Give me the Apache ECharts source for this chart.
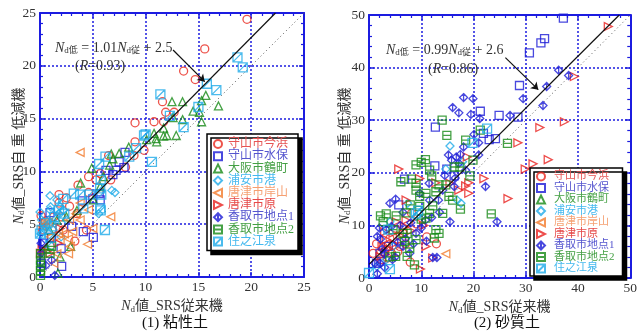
<!DOCTYPE html>
<html><head><meta charset="utf-8">
<script src="https://cdn.jsdelivr.net/npm/echarts@6/dist/echarts.min.js"></script>
<style>html,body{margin:0;padding:0;background:#fff}#c{width:640px;height:334px}</style>
</head><body><div id="c"></div>
<script>
// ---- names ----
const seriesNames = ['守山市今浜','守山市水保','大阪市鶴町','浦安市港','唐津市岸山','唐津市原','香取市地点1','香取市地点2','住之江泉'];
const ticksLeft = [0,5,10,15,20,25];
const ticksRight = [0,10,20,30,40,50];
// ---- (1) clay ----
const c_imahama = [[19.6,24.4],[15.6,21.6],[13.6,19.5],[14.7,18.7],[11.6,16.6],[11.9,15.6],[12.7,15.6],[9.0,14.6],[10.8,14.7],[11.7,14.7],[9.0,12.8],[9.85,12.0],[8.9,11.5],[8.1,10.4],[4.6,9.5],[5.3,9.2],[6.7,9.2],[3.6,8.7],[4.6,8.0],[1.8,7.8],[2.5,7.5],[1.8,7.0],[2.8,6.7],[1.3,5.7],[0.5,5.3],[0.25,4.45],[3.3,3.4],[2.0,5.7],[3.5,6.0],[0.1,5.8],[2.2,4.45],[4.4,4.45],[5.7,9.8],[6.5,11.5]];
const c_mizuho = [[7.5,10.9],[7.95,10.35],[7.2,10.1],[6.25,10.1],[6.9,9.7],[8.05,11.8],[5.6,7.9],[5.7,7.3],[5.0,7.4],[4.0,7.2],[4.1,4.3],[5.05,3.75],[3.0,4.8],[2.0,2.7],[2.05,1.0],[1.1,3.75],[0.25,3.2],[0.15,1.3],[0.95,6.1]];
const c_tsurumachi = [[12.5,16.6],[13.5,16.6],[15.7,17.2],[15.3,16.7],[16.9,16.2],[14.5,15.7],[15.1,15.6],[15.3,14.7],[13.5,14.9],[12.6,15.1],[11.7,14.1],[12.0,13.4],[12.9,13.4],[11.7,13.35],[10.8,13.6],[11.0,13.1],[10.1,13.0],[8.4,12.3],[7.5,11.7],[6.75,11.65],[6.6,10.6],[4.9,10.3],[3.85,8.9],[3.5,6.3],[2.5,5.7],[1.6,5.4],[0.9,4.45],[2.9,2.9],[1.9,1.9],[1.7,0.35],[0.6,2.7],[5.7,8.55],[6.0,9.5],[5.05,7.3],[6.9,11.2],[11.05,12.8]];
const c_urayasu = [[0.95,7.7],[7.1,8.0],[6.8,8.2],[5.55,6.0],[0.95,6.35],[1.0,6.65],[0.0,6.15],[1.6,7.3],[1.9,6.65],[2.2,6.35],[0.5,4.8],[1.25,4.45],[1.75,6.0],[0.8,5.4],[2.5,5.4],[0.1,4.1],[2.0,3.8],[1.1,2.9],[0.15,5.4],[1.4,5.1]];
const c_kishiyama = [[3.8,11.8],[6.7,5.7],[4.6,6.35],[3.8,7.0],[4.5,3.1],[5.0,4.6],[3.4,6.0],[2.8,5.4],[2.7,3.6],[1.9,3.5],[1.6,2.2],[1.3,1.3],[2.85,2.9],[0.3,5.15],[0.15,4.8],[0.95,3.8],[2.3,4.1],[3.1,4.3],[0.8,5.2],[2.7,2.2],[3.8,5.4],[1.75,4.1]];
const c_hara = [[0.05,2.25],[1.9,4.6],[0.95,2.25],[0.2,2.6],[1.7,3.2]];
const c_katori1 = [[1.4,0.15],[1.1,1.6],[0.55,1.1],[0.1,2.25],[0.1,3.2]];
const c_katori2 = [[0.05,0.15],[0.05,0.6],[0.05,1.1],[0.05,1.6],[0.05,2.2],[1.1,2.9],[0.95,2.25]];
const c_suminoe = [[18.7,20.8],[19.2,19.85],[15.8,18.3],[16.7,17.7],[11.4,17.3],[15.0,16.1],[13.6,14.2],[12.3,15.25],[9.85,13.4],[10.0,13.5],[10.6,10.9],[9.1,12.2],[8.45,11.4],[6.2,11.4],[5.6,10.7],[5.75,9.2],[5.7,8.4],[5.8,7.8],[5.7,6.5],[5.75,6.3],[6.15,4.45],[3.8,7.8],[3.2,7.9],[2.2,7.4],[1.8,6.35],[2.3,6.0],[1.35,5.7],[0.5,5.1],[0.15,4.45],[0.0,4.1],[0.95,3.7],[1.1,4.8],[4.7,7.8],[4.1,6.5]];
const c_regLine = [[0,2.5],[22.3,25]];
const c_oneLine = [[0,0],[25,25]];
const c_arrow = [[12.6,21.5],[15.6,18.5]];
// ---- (2) sand ----
const s_imahama = [[11.05,7.8],[12.9,6.5],[7.9,3.0],[1.45,6.5],[0.8,4.7],[2.7,5.9],[4.0,7.5],[5.2,9.2],[6.5,8.5],[5.9,6.0],[3.5,3.8],[4.3,4.7],[2.4,3.5],[9.0,10.3],[8.15,12.3],[3.0,5.0],[5.5,5.0],[7.0,6.5],[4.5,6.2]];
const s_mizuho = [[37.2,49.4],[33.6,45.5],[32.9,44.7],[30.7,42.8],[28.8,36.6],[28.5,30.6],[24.9,30.9],[21.3,31.7],[12.7,28.7],[12.6,21.3],[24.2,26.5],[23.0,26.3],[21.9,27.5],[6.8,18.8],[14.9,20.7],[16.3,19.4],[5.7,13.9],[3.7,6.0],[2.1,4.7],[1.45,2.8]];
const s_tsurumachi = [];
const s_urayasu = [[15.5,25.1],[14.7,20.7],[16.9,14.8],[17.6,14.2],[17.9,22.1],[3.3,3.5],[4.6,6.0],[7.4,14.2],[9.0,11.7],[1.5,2.2],[4.0,10.7]];
const s_kishiyama = [[14.7,4.6]];
const s_hara = [[45.8,47.8],[39.3,38.3],[37.4,29.7],[32.7,28.6],[34.3,22.5],[31.4,21.7],[29.9,20.7],[28.5,25.7],[26.6,15.1],[22.0,18.9],[19.1,18.1],[18.8,23.0],[5.7,20.7],[7.1,14.8],[9.7,18.9],[12.8,18.1],[9.85,1.7],[10.9,6.0],[12.2,3.8],[5.2,10.7],[4.6,8.5],[3.3,7.3],[2.1,4.1],[7.1,11.0],[17.2,16.7],[19.1,16.1],[2.5,6.0],[3.8,5.5],[4.8,6.5],[6.0,8.0],[8.0,9.0],[6.8,9.8],[10.5,10.0],[15.5,18.0],[18.5,17.5],[3.0,8.8]];
const s_katori1 = [[36.3,39.5],[38.2,38.5],[34.0,36.4],[29.5,34.1],[33.3,32.8],[27.0,30.9],[21.2,30.3],[18.1,34.3],[19.9,34.1],[16.0,32.4],[17.2,31.4],[19.5,31.1],[20.1,27.3],[21.0,25.7],[18.1,24.9],[21.0,23.4],[15.2,23.4],[16.7,23.0],[15.8,22.4],[17.2,21.8],[18.5,20.5],[22.3,17.4],[24.5,10.7],[15.5,10.7],[12.2,3.9],[13.0,3.9],[1.6,0.8],[16.3,17.4],[13.3,14.8],[4.0,14.2],[5.1,15.0],[1.6,7.9],[2.2,7.4],[3.3,9.2],[4.3,9.8],[7.8,4.7],[9.0,8.5],[10.8,11.0],[2.1,2.8],[1.1,2.8],[6.5,6.0],[9.7,16.1],[11.6,14.8],[14.1,16.7],[2.5,5.5],[3.0,4.5],[4.5,3.5],[5.5,6.8],[6.0,10.0],[7.0,7.5],[8.0,10.5],[8.5,6.5],[10.0,9.5],[11.0,7.0],[12.0,11.5],[13.5,12.5],[14.5,19.5],[16.5,19.0],[17.5,23.5],[3.0,2.0],[5.0,4.0],[6.5,12.5],[2.0,9.5],[11.5,18.0]];
const s_katori2 = [[14.0,30.0],[14.9,27.1],[9.0,21.5],[10.0,22.0],[10.8,22.5],[11.6,20.5],[12.0,19.4],[6.1,18.3],[8.1,18.8],[9.0,18.0],[9.0,16.7],[9.7,15.5],[10.9,16.1],[12.8,16.4],[13.4,17.7],[14.7,17.7],[16.3,21.1],[17.4,21.1],[18.5,26.2],[19.9,22.4],[19.3,19.4],[21.3,28.1],[26.5,25.6],[23.4,12.2],[17.5,13.1],[2.2,11.8],[3.3,12.2],[5.2,11.8],[7.1,12.4],[7.9,13.9],[9.7,13.6],[12.2,13.7],[12.8,9.2],[13.4,8.5],[12.5,7.6],[4.0,4.0],[5.1,4.1],[7.3,4.1],[8.7,2.5],[2.7,10.7],[4.6,9.2],[7.3,8.5],[7.8,5.7],[11.6,12.3],[10.9,11.4],[14.1,12.3],[15.3,15.5],[16.0,14.8],[10.0,11.2],[6.5,8.5],[9.0,7.3],[6.8,6.9]];
const s_suminoe = [[0,0.95],[3.7,9.2],[4.0,1.7],[22.6,28.4],[19.8,25.7],[9.4,12.8],[9.0,12.3]];
const s_regLine = [[0,2.6],[47.9,50]];
const s_oneLine = [[0,0],[50,50]];
const s_arrow = [[26.1,41.9],[32.4,35.8]];

// ---- styles ----
const SERIF = '"Liberation Serif","Noto Sans CJK JP",serif';
const BLUE = '#1c1ce0';
const symColors = ['#e8281e','#1a1ad6','#178a17','#1eaae8','#f27a2c','#e8201e','#1a1ad6','#178a17','#1eaae8'];
const txtColors = ['#e65454','#5656cf','#45a045','#45b9ef','#f5a072','#e64848','#5656cf','#45a045','#45b9ef'];
const symbols = ['circle','rect','triangle','diamond',
  'path://M10,0 L0,5 L10,10 Z',
  'path://M0,0 L10,5 L0,10 Z',
  'path://M5,0 L10,5 L5,10 L0,5 Z M5,0 L5,10',
  'path://M0,0 L10,0 L10,10 L0,10 Z M0,5 L10,5',
  'path://M0,0 L10,0 L10,10 L0,10 Z M0,10 L10,0'];
const symSizes = [8,8,8,8,8,8,8,8,9];
const clayData = [c_imahama,c_mizuho,c_tsurumachi,c_urayasu,c_kishiyama,c_hara,c_katori1,c_katori2,c_suminoe];
const sandData = [s_imahama,s_mizuho,s_tsurumachi,s_urayasu,s_kishiyama,s_hara,s_katori1,s_katori2,s_suminoe];

const nameRich = {
  i:{fontStyle:'italic',fontFamily:SERIF,fontSize:14,fill:'#333',color:'#333'},
  n:{fontFamily:SERIF,fontSize:14,fill:'#333',color:'#333'},
  s:{fontFamily:SERIF,fontSize:9,fill:'#333',color:'#333',padding:[6,0,0,0]}
};
function mkX(gi, ticks, pos, main){
  const iv = ticks[1]-ticks[0];
  return {type:'value', gridIndex:gi, position:pos, min:ticks[0], max:ticks[ticks.length-1], interval:iv,
    name: main && (pos==='bottom') ? '{i|N}{s|d}{n|値_SRS従来機}' : '', nameLocation:'middle', nameGap:17,
    nameTextStyle:{fontFamily:SERIF, fontSize:14, color:'#333', rich:nameRich},
    axisLine:{show:true, onZero:false, lineStyle:{color:BLUE,width:2}},
    axisTick:{show:true, inside:true, length:5, lineStyle:{color:BLUE,width:1.5}},
    minorTick:{show:true, splitNumber:5, length:3, lineStyle:{color:BLUE,width:1.2}},
    axisLabel:{show:main, fontFamily:SERIF, fontSize:13.5, color:'#333', margin:4},
    splitLine:{show:main, lineStyle:{color:BLUE, width:1.5, type:[2,2]}}};
}
function mkY(gi, ticks, pos, main){
  const a = mkX(gi, ticks, pos, main);
  a.name = '';
  return a;
}
const series = [];
function addPanel(gi, data, reg, one, arrow){
  data.forEach((d,k)=>{
    series.push({type:'scatter', name:seriesNames[k], xAxisIndex:gi*2, yAxisIndex:gi*2, data:d,
      symbol:symbols[k], symbolSize:symSizes[k], z:3,
      itemStyle:{color:'rgba(255,255,255,0)', borderColor:symColors[k], borderWidth:1.3}});
  });
  series.push({type:'line', xAxisIndex:gi*2, yAxisIndex:gi*2, data:one, symbol:'none', silent:true, z:2,
    lineStyle:{color:'#555', width:1, type:[1,3]}});
  series.push({type:'line', xAxisIndex:gi*2, yAxisIndex:gi*2, data:reg, symbol:'none', silent:true, z:4,
    lineStyle:{color:'#111', width:1.2},
    markLine:{silent:true, symbol:['none','arrow'], symbolSize:7, label:{show:false},
      lineStyle:{color:'#111', width:1.2, type:'solid'},
      data:[[{coord:arrow[0]},{coord:arrow[1]}]]}});
}
addPanel(0, clayData, c_regLine, c_oneLine, c_arrow);
addPanel(1, sandData, s_regLine, s_oneLine, s_arrow);

function mkLegend(left, top, fs, pad, gap, tpad){
  return {show:true, orient:'vertical', left:left, top:top, padding:pad, itemGap:gap,
    itemWidth:8, itemHeight:8, backgroundColor:'#fff', borderColor:'#000', borderWidth:1.5,
    shadowColor:'#000', shadowBlur:0, shadowOffsetX:4, shadowOffsetY:4, borderRadius:0, z:10,
    textStyle:{fontFamily:SERIF, fontSize:fs, padding:[0,0,0,tpad]},
    data: seriesNames.map((n,k)=>({name:n, textStyle:{color:txtColors[k]}})),
    selectedMode:false};
}
const yName = '{i|N}{s|d}{n|値_SRS自 重 低減機}';
const option = {
  animation:false,
  backgroundColor:'#fff',
  grid:[{left:40, top:13, width:264, height:264},{left:369, top:15, width:264, height:263}],
  xAxis:[mkX(0,ticksLeft,'bottom',true), mkX(0,ticksLeft,'top',false), mkX(1,ticksRight,'bottom',true), mkX(1,ticksRight,'top',false)],
  yAxis:[mkY(0,ticksLeft,'left',true), mkY(0,ticksLeft,'right',false), mkY(1,ticksRight,'left',true), mkY(1,ticksRight,'right',false)],
  legend:[mkLegend(207,134,12,[4,4,3,6],0.2,1), mkLegend(530,168,11,[3,8,2,6],0.5,4)],
  title:[
    {text:'(1) 粘性土', left:170, top:311, textAlign:'center', textStyle:{fontFamily:SERIF, fontSize:15, fontWeight:'normal', color:'#111'}},
    {text:'(2) 砂質土', left:502, top:311, textAlign:'center', textStyle:{fontFamily:SERIF, fontSize:15, fontWeight:'normal', color:'#111'}}
  ],
  graphic:[
    {type:'text', x:19, y:156, rotation:Math.PI/2, z:10, style:{text:yName, rich:nameRich, align:'center', verticalAlign:'middle', fill:'#333'}},
    {type:'text', x:345, y:156, rotation:Math.PI/2, z:10, style:{text:yName, rich:nameRich, align:'center', verticalAlign:'middle', fill:'#333'}},
    {type:'text', left:55, top:41, z:10, style:{text:'{i|N}{s|d低}{n| = 1.01}{i|N}{s|d従}{n| + 2.5}', rich:nameRich, fill:'#333'}},
    {type:'text', left:75, top:59, z:10, style:{text:'{n|(}{i|R}{n|=0.93)}', rich:nameRich, fill:'#333'}},
    {type:'text', left:386, top:43, z:10, style:{text:'{i|N}{s|d低}{n| = 0.99}{i|N}{s|d従}{n| + 2.6}', rich:nameRich, fill:'#333'}},
    {type:'text', left:428, top:62, z:10, style:{text:'{n|(}{i|R}{n|=0.86)}', rich:nameRich, fill:'#333'}}
  ],
  series:series
};
const chart = echarts.init(document.getElementById('c'), null, {renderer:'canvas'});
chart.setOption(option);
</script></body></html>
